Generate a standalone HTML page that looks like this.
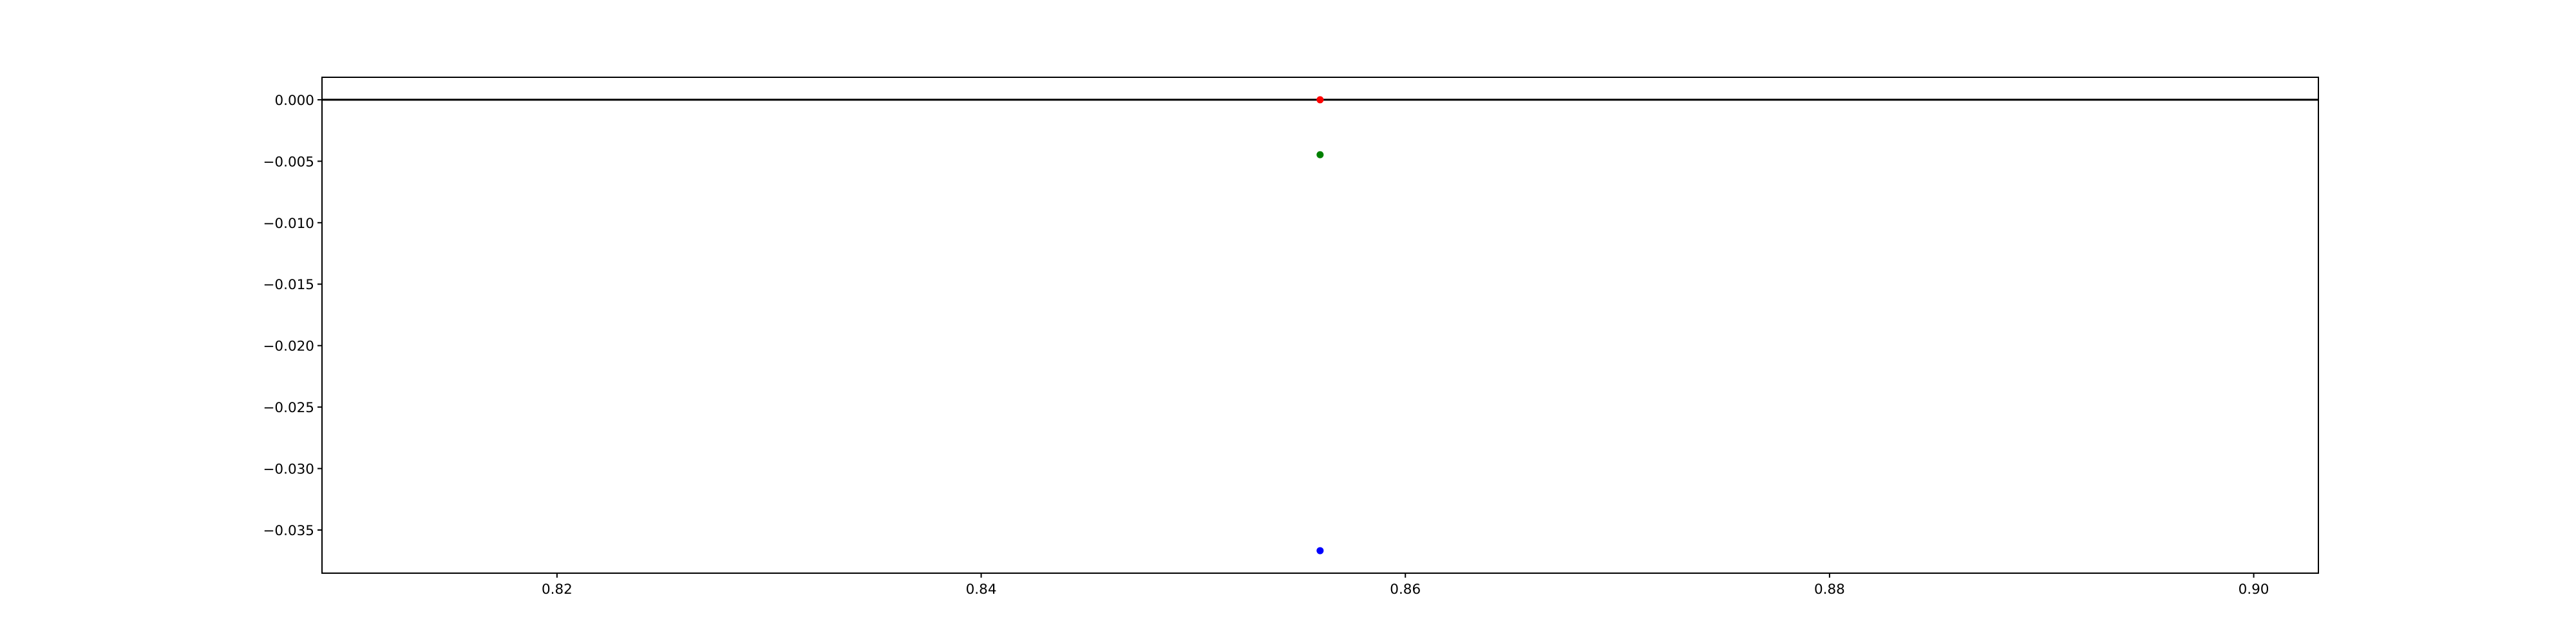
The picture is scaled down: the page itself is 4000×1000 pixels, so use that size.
<!DOCTYPE html>
<html><head><meta charset="utf-8"><style>
html,body{margin:0;padding:0;background:#fff;}
svg{display:block;}
text{font-family:"DejaVu Sans","Liberation Sans",sans-serif;font-size:21.5px;fill:#000;}
</style></head><body>
<svg id="chart" width="4000" height="1000" viewBox="0 0 4000 1000" xmlns="http://www.w3.org/2000/svg">
<rect x="0" y="0" width="4000" height="1000" fill="#fff"/>
<g id="plot"></g>
</svg>
<script>
const xTicks = [0.82, 0.84, 0.86, 0.88, 0.90];
const xTickLabels = ["0.82", "0.84", "0.86", "0.88", "0.90"];
const yTicks = [0, -0.005, -0.01, -0.015, -0.02, -0.025, -0.03, -0.035];
const yTickLabels = ["0.000", "\u22120.005", "\u22120.010", "\u22120.015", "\u22120.020", "\u22120.025", "\u22120.030", "\u22120.035"];
const pointX = [0.85598, 0.85598, 0.85598];
const pointY = [0, -0.00447, -0.03668];
const pointColors = ["red", "green", "blue"];
const pointNames = ["point-red", "point-green", "point-blue"];
const hLineY = [0];

const L = 500, R = 3600, T = 120, B = 890;
const xMin = 0.80892, xMax = 0.90305, yMin = -0.03851, yMax = 0.00183;
const xs = v => L + (v - xMin) / (xMax - xMin) * (R - L);
const ys = v => B - (v - yMin) / (yMax - yMin) * (B - T);
const NS = "http://www.w3.org/2000/svg";
const g = document.getElementById('plot');
function mk(tag, attrs) { const e = document.createElementNS(NS, tag); for (const k in attrs) e.setAttribute(k, attrs[k]); g.appendChild(e); return e; }

hLineY.forEach(v => {
  const l = mk('line', {x1: L, x2: R, y1: ys(v), y2: ys(v), stroke: '#000', 'stroke-width': 3});
  
  
});
pointX.forEach((v, i) => {
  const c = mk('circle', {cx: xs(v), cy: ys(pointY[i]), r: 5.5, fill: pointColors[i]});
  
  
});
const frame = mk('rect', {x: L, y: T, width: R - L, height: B - T, fill: 'none', stroke: '#000', 'stroke-width': 2});



xTicks.forEach((v, i) => {
  const t = mk('line', {x1: xs(v), x2: xs(v), y1: B, y2: B + 7, stroke: '#000', 'stroke-width': 2});
  
  
  const tx = mk('text', {x: xs(v), y: B + 32, 'text-anchor': 'middle'});
  tx.textContent = xTickLabels[i];
  
  
});
yTicks.forEach((v, i) => {
  const t = mk('line', {x1: L - 7, x2: L, y1: ys(v), y2: ys(v), stroke: '#000', 'stroke-width': 2});
  
  
  const tx = mk('text', {x: L - 12, y: ys(v) + 8, 'text-anchor': 'end'});
  tx.textContent = yTickLabels[i];
  
  
});
</script>
</body></html>
